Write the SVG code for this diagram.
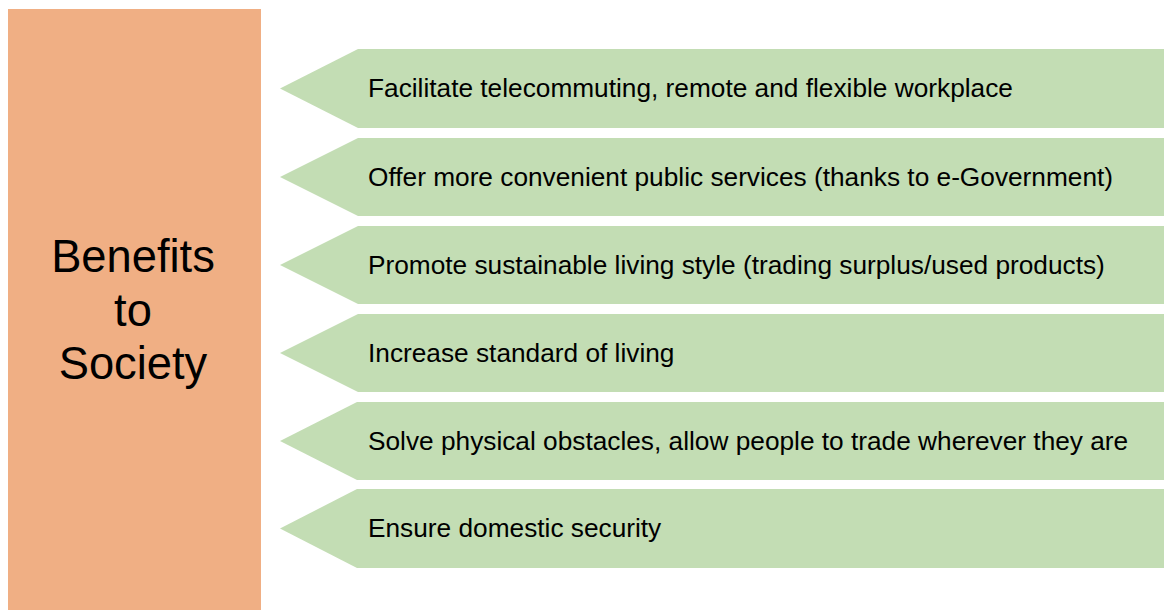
<svg xmlns="http://www.w3.org/2000/svg" width="1164" height="610" viewBox="0 0 1164 610">
  <style>
    .hub { fill: #F0AF84; }
    .chev { fill: #C3DDB4; }
    .hub-label { font-family: "Liberation Sans", Arial, sans-serif; font-size: 45.3px; fill: #000; text-anchor: middle; }
    .item-label { font-family: "Liberation Sans", Arial, sans-serif; font-size: 26.25px; fill: #000; }
  </style>
  <rect width="1164" height="610" fill="#FFFFFF"/>

  <!-- central block -->
  <g id="hub">
    <rect class="hub" x="8" y="9" width="253" height="601"/>
    <text class="hub-label" x="133" y="272">Benefits</text>
    <text class="hub-label" x="133" y="326">to</text>
    <text class="hub-label" x="133" y="379">Society</text>
  </g>

  <!-- connectors: none drawn; chevrons point at the hub directly -->
  <g id="connectors"></g>

  <!-- benefit chevrons -->
  <g id="item1">
    <polygon class="chev" points="358,49 1164,49 1164,128 358,128 280,88.5"/>
    <text class="item-label" x="368" y="97">Facilitate telecommuting, remote and flexible workplace</text>
  </g>
  <g id="item2">
    <polygon class="chev" points="358,138 1164,138 1164,216 358,216 280,177"/>
    <text class="item-label" x="368" y="186">Offer more convenient public services (thanks to e-Government)</text>
  </g>
  <g id="item3">
    <polygon class="chev" points="358,226 1164,226 1164,304 358,304 280,265"/>
    <text class="item-label" x="368" y="274">Promote sustainable living style (trading surplus/used products)</text>
  </g>
  <g id="item4">
    <polygon class="chev" points="358,314 1164,314 1164,392 358,392 280,353"/>
    <text class="item-label" x="368" y="362">Increase standard of living</text>
  </g>
  <g id="item5">
    <polygon class="chev" points="357,402 1164,402 1164,480 357,480 280,441"/>
    <text class="item-label" x="368" y="450">Solve physical obstacles, allow people to trade wherever they are</text>
  </g>
  <g id="item6">
    <polygon class="chev" points="357,489 1164,489 1164,568 357,568 280,528.5"/>
    <text class="item-label" x="368" y="537">Ensure domestic security</text>
  </g>
</svg>
